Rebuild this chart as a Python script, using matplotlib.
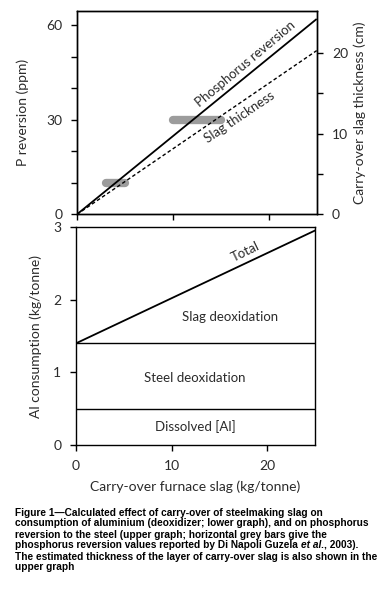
import matplotlib
matplotlib.use("Agg")
import matplotlib.pyplot as plt
import numpy as np

# ---- data ----
slag_x = [0, 25]                 # carry-over furnace slag (kg/tonne)
p_reversion = [0, 62]            # P reversion (ppm)
slag_thickness = [0, 20.3]       # carry-over slag thickness (cm)
bar_x = [[3, 5], [10, 15]]       # grey bars (kg/tonne)
bar_p = [10, 30]                 # grey bars (ppm)
total_al = [1.4, 2.95]           # Total Al consumption (kg/tonne)
steel_deox = 1.4
dissolved_al = 0.5

top_yticks = [0, 30, 60]
top_minor = [10, 20, 40, 50]
right_ticks = [0, 10, 20]
right_minor = [5, 15]
low_yticks = [0, 1, 2, 3]
xticks = [0, 10, 20]

FONT = "Lato"
TC = "#2b2b2b"
plt.rcParams['font.family'] = [FONT, 'DejaVu Sans']

fig = plt.figure(figsize=(3.9, 5.99), dpi=100)

L, R = 0.197, 0.812
ax1 = fig.add_axes([L, 0.642, R - L, 0.982 - 0.642])
ax2 = fig.add_axes([L - 0.002, 0.257, R - L - 0.003, 0.621 - 0.257])

for ax in (ax1, ax2):
    for s in ax.spines.values():
        s.set_linewidth(1.0)
        s.set_color("black")
    ax.tick_params(direction="out", length=4, width=1.0, labelsize=10, labelcolor=TC, pad=6.5)
    ax.tick_params(which="minor", direction="out", length=4, width=1.0)
    ax.set_xlim(0, 25)
ax2.tick_params(axis="x", pad=7)

# ---- upper graph ----
ax1.set_ylim(0, 64.6)
ax1.set_yticks(top_yticks)
ax1.set_yticks(top_minor, minor=True)
ax1.set_xticks(xticks)
ax1.set_xticklabels([])
ax1.plot(slag_x, p_reversion, color="black", lw=1.3, solid_capstyle="butt")
for xs, yp in zip(bar_x, bar_p):
    ax1.plot(xs, [yp, yp], color="#9c9c9c", lw=6, solid_capstyle="round", zorder=1)

ax1r = ax1.twinx()
ax1r.set_ylim(0, 64.6 / 2.56)
ax1r.set_yticks(right_ticks)
ax1r.set_yticks(right_minor, minor=True)
ax1r.tick_params(direction="out", length=4, width=1.0, labelsize=10, labelcolor=TC, pad=7)
ax1r.tick_params(which="minor", direction="out", length=4, width=1.0)
for s in ax1r.spines.values():
    s.set_linewidth(1.0)
ax1r.plot(slag_x, slag_thickness, color="black", lw=1.0, ls=(0, (2.6, 1.8)))

ax1.set_ylabel("P reversion (ppm)", fontsize=10, color=TC, labelpad=12)
ax1r.set_ylabel("Carry-over slag thickness (cm)", fontsize=10, color=TC, labelpad=4)

ax1.text(17.6, 47.9, "Phosphorus reversion", rotation=40, ha="center", va="center",
         fontsize=9.5, color=TC, rotation_mode="anchor")
ax1.text(17.0, 30.8, "Slag thickness", rotation=34, ha="center", va="center",
         fontsize=9.5, color=TC, rotation_mode="anchor")

# ---- lower graph ----
ax2.set_ylim(0, 3)
ax2.set_yticks(low_yticks)
ax2.set_xticks(xticks)
ax2.plot(slag_x, total_al, color="black", lw=1.3)
ax2.axhline(steel_deox, color="black", lw=1.0)
ax2.axhline(dissolved_al, color="black", lw=1.0)
ax2.text(17.7, 2.66, "Total", rotation=26, ha="center", va="center",
         fontsize=9.5, color=TC, rotation_mode="anchor")
ax2.text(16.1, 1.76, "Slag deoxidation", ha="center", va="center", fontsize=9.5, color=TC)
ax2.text(12.4, 0.92, "Steel deoxidation", ha="center", va="center", fontsize=9.5, color=TC)
ax2.text(12.5, 0.25, "Dissolved [Al]", ha="center", va="center", fontsize=9.5, color=TC)
ax2.set_ylabel("Al consumption (kg/tonne)", fontsize=10, color=TC, labelpad=8)
ax2.set_xlabel("Carry-over furnace slag (kg/tonne)", fontsize=10, color=TC, labelpad=6)

# ---- caption ----
cap_font = ["Liberation Sans", "DejaVu Sans"]
cs = 7.25
lines = [
    "Figure 1\u2014Calculated effect of carry-over of steelmaking slag on",
    "consumption of aluminium (deoxidizer; lower graph), and on phosphorus",
    "reversion to the steel (upper graph; horizontal grey bars give the",
    None,
    "The estimated thickness of the layer of carry-over slag is also shown in the",
    "upper graph",
]
x0 = 15 / 390
y_first = 1 - 512.5 / 599
dy = 11 / 599
for i, ln in enumerate(lines):
    y = y_first - i * dy
    if ln is not None:
        fig.text(x0, y, ln, fontsize=cs, fontweight="bold", family=cap_font, va="center")
    else:
        t1 = fig.text(x0, y, "phosphorus reversion values reported by Di Napoli Guzela ",
                      fontsize=cs, fontweight="bold", family=cap_font, va="center")
        fig.canvas.draw()
        r = fig.canvas.get_renderer()
        bb = t1.get_window_extent(r)
        x1 = bb.x1 / fig.bbox.width
        t2 = fig.text(x1, y, "et al.", fontsize=cs, fontweight="bold", style="italic",
                      family=cap_font, va="center")
        bb2 = t2.get_window_extent(r)
        x2 = bb2.x1 / fig.bbox.width
        fig.text(x2, y, ", 2003).", fontsize=cs, fontweight="bold", family=cap_font, va="center")

fig.savefig("out.png", dpi=100)
